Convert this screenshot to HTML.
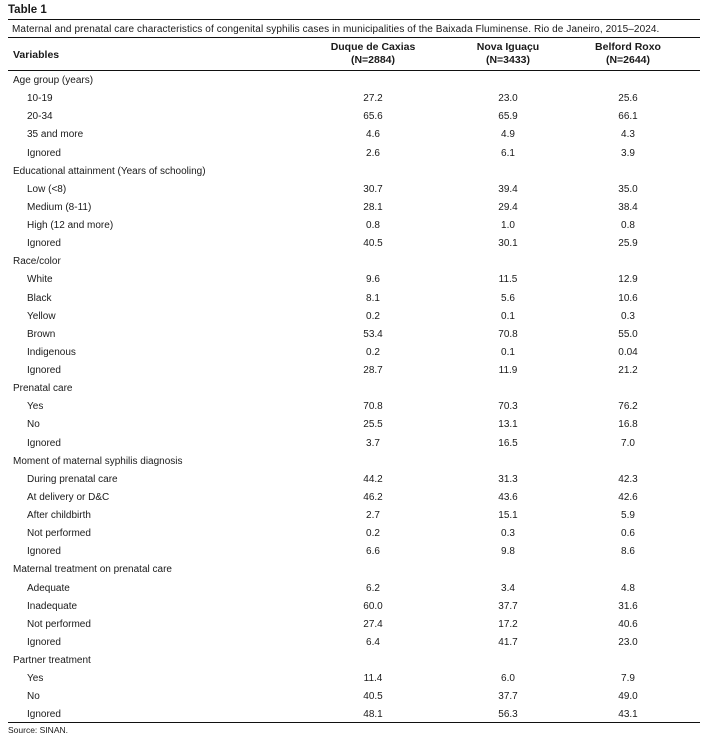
<!DOCTYPE html>
<html><head><meta charset="utf-8"><style>
body{margin:0;width:707px;height:740px;background:#fff;font-family:"Liberation Sans",sans-serif;color:#1a1a1a;position:relative;overflow:hidden}
.t{position:absolute;left:8px;top:4px;font-weight:bold;font-size:11.5px}
.l{position:absolute;left:8px;width:692px;height:1px;background:#111}
.cap{position:absolute;left:12px;top:24px;font-size:10px;letter-spacing:0.1px}
.h{position:absolute;font-weight:bold;font-size:10.5px;text-align:center;line-height:13px}
table{position:absolute;left:8px;top:72px;width:680px;table-layout:fixed;border-collapse:collapse;font-size:10px}
td{height:18.14px;padding:0;line-height:18px;white-space:nowrap}
td.c{padding-left:5px}
td.s{padding-left:19px}
td.v{text-align:center}
.src{position:absolute;left:8px;top:725px;font-size:8.5px}
</style></head><body>
<div class="t">Table 1</div>
<div class="l" style="top:19px"></div>
<div class="cap">Maternal and prenatal care characteristics of congenital syphilis cases in municipalities of the Baixada Fluminense. Rio de Janeiro, 2015–2024.</div>
<div class="l" style="top:37px"></div>
<div class="h" style="left:13px;top:49px">Variables</div>
<div class="h" style="left:313px;width:120px;top:41px">Duque de Caxias<br>(N=2884)</div>
<div class="h" style="left:448px;width:120px;top:41px">Nova Iguaçu<br>(N=3433)</div>
<div class="h" style="left:568px;width:120px;top:41px">Belford Roxo<br>(N=2644)</div>
<div class="l" style="top:70px"></div>
<table>
<colgroup><col style="width:305px"><col style="width:120px"><col style="width:15px"><col style="width:120px"><col style="width:0px"><col style="width:120px"></colgroup>
<tr><td class="c" colspan="6">Age group (years)</td></tr>
<tr><td class="s">10-19</td><td class="v">27.2</td><td></td><td class="v">23.0</td><td></td><td class="v">25.6</td></tr>
<tr><td class="s">20-34</td><td class="v">65.6</td><td></td><td class="v">65.9</td><td></td><td class="v">66.1</td></tr>
<tr><td class="s">35 and more</td><td class="v">4.6</td><td></td><td class="v">4.9</td><td></td><td class="v">4.3</td></tr>
<tr><td class="s">Ignored</td><td class="v">2.6</td><td></td><td class="v">6.1</td><td></td><td class="v">3.9</td></tr>
<tr><td class="c" colspan="6">Educational attainment (Years of schooling)</td></tr>
<tr><td class="s">Low (&lt;8)</td><td class="v">30.7</td><td></td><td class="v">39.4</td><td></td><td class="v">35.0</td></tr>
<tr><td class="s">Medium (8-11)</td><td class="v">28.1</td><td></td><td class="v">29.4</td><td></td><td class="v">38.4</td></tr>
<tr><td class="s">High (12 and more)</td><td class="v">0.8</td><td></td><td class="v">1.0</td><td></td><td class="v">0.8</td></tr>
<tr><td class="s">Ignored</td><td class="v">40.5</td><td></td><td class="v">30.1</td><td></td><td class="v">25.9</td></tr>
<tr><td class="c" colspan="6">Race/color</td></tr>
<tr><td class="s">White</td><td class="v">9.6</td><td></td><td class="v">11.5</td><td></td><td class="v">12.9</td></tr>
<tr><td class="s">Black</td><td class="v">8.1</td><td></td><td class="v">5.6</td><td></td><td class="v">10.6</td></tr>
<tr><td class="s">Yellow</td><td class="v">0.2</td><td></td><td class="v">0.1</td><td></td><td class="v">0.3</td></tr>
<tr><td class="s">Brown</td><td class="v">53.4</td><td></td><td class="v">70.8</td><td></td><td class="v">55.0</td></tr>
<tr><td class="s">Indigenous</td><td class="v">0.2</td><td></td><td class="v">0.1</td><td></td><td class="v">0.04</td></tr>
<tr><td class="s">Ignored</td><td class="v">28.7</td><td></td><td class="v">11.9</td><td></td><td class="v">21.2</td></tr>
<tr><td class="c" colspan="6">Prenatal care</td></tr>
<tr><td class="s">Yes</td><td class="v">70.8</td><td></td><td class="v">70.3</td><td></td><td class="v">76.2</td></tr>
<tr><td class="s">No</td><td class="v">25.5</td><td></td><td class="v">13.1</td><td></td><td class="v">16.8</td></tr>
<tr><td class="s">Ignored</td><td class="v">3.7</td><td></td><td class="v">16.5</td><td></td><td class="v">7.0</td></tr>
<tr><td class="c" colspan="6">Moment of maternal syphilis diagnosis</td></tr>
<tr><td class="s">During prenatal care</td><td class="v">44.2</td><td></td><td class="v">31.3</td><td></td><td class="v">42.3</td></tr>
<tr><td class="s">At delivery or D&amp;C</td><td class="v">46.2</td><td></td><td class="v">43.6</td><td></td><td class="v">42.6</td></tr>
<tr><td class="s">After childbirth</td><td class="v">2.7</td><td></td><td class="v">15.1</td><td></td><td class="v">5.9</td></tr>
<tr><td class="s">Not performed</td><td class="v">0.2</td><td></td><td class="v">0.3</td><td></td><td class="v">0.6</td></tr>
<tr><td class="s">Ignored</td><td class="v">6.6</td><td></td><td class="v">9.8</td><td></td><td class="v">8.6</td></tr>
<tr><td class="c" colspan="6">Maternal treatment on prenatal care</td></tr>
<tr><td class="s">Adequate</td><td class="v">6.2</td><td></td><td class="v">3.4</td><td></td><td class="v">4.8</td></tr>
<tr><td class="s">Inadequate</td><td class="v">60.0</td><td></td><td class="v">37.7</td><td></td><td class="v">31.6</td></tr>
<tr><td class="s">Not performed</td><td class="v">27.4</td><td></td><td class="v">17.2</td><td></td><td class="v">40.6</td></tr>
<tr><td class="s">Ignored</td><td class="v">6.4</td><td></td><td class="v">41.7</td><td></td><td class="v">23.0</td></tr>
<tr><td class="c" colspan="6">Partner treatment</td></tr>
<tr><td class="s">Yes</td><td class="v">11.4</td><td></td><td class="v">6.0</td><td></td><td class="v">7.9</td></tr>
<tr><td class="s">No</td><td class="v">40.5</td><td></td><td class="v">37.7</td><td></td><td class="v">49.0</td></tr>
<tr><td class="s">Ignored</td><td class="v">48.1</td><td></td><td class="v">56.3</td><td></td><td class="v">43.1</td></tr>
</table>
<div class="l" style="top:722px"></div>
<div class="src">Source: SINAN.</div>
</body></html>
